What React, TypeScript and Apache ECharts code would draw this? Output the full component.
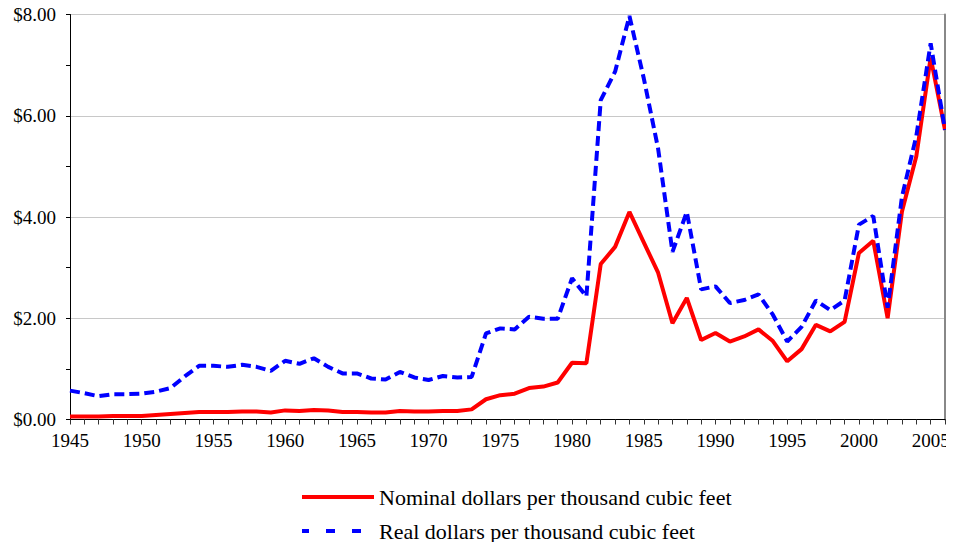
import React, { useEffect, useRef } from "react";
import * as echarts from "echarts";

const years: string[] = [];
for (let y = 1945; y <= 2006; y++) years.push(String(y));

const nominal = [
  0.06, 0.06, 0.06, 0.07, 0.07, 0.07, 0.09, 0.11, 0.13, 0.15,
  0.15, 0.15, 0.16, 0.16, 0.14, 0.18, 0.17, 0.19, 0.18, 0.15,
  0.15, 0.14, 0.14, 0.17, 0.16, 0.16, 0.17, 0.17, 0.20, 0.40,
  0.48, 0.51, 0.62, 0.65, 0.73, 1.12, 1.11, 3.07, 3.41, 4.10,
  3.50, 2.90, 1.90, 2.40, 1.57, 1.71, 1.54, 1.64, 1.78, 1.55,
  1.15, 1.39, 1.87, 1.74, 1.93, 3.29, 3.53, 2.00, 4.11, 5.20,
  7.15, 5.72,
];

const real = [
  0.57, 0.52, 0.46, 0.50, 0.50, 0.51, 0.55, 0.62, 0.85, 1.06,
  1.06, 1.04, 1.08, 1.04, 0.96, 1.16, 1.10, 1.21, 1.04, 0.91,
  0.91, 0.81, 0.79, 0.94, 0.83, 0.78, 0.86, 0.83, 0.84, 1.70,
  1.80, 1.78, 2.03, 1.99, 1.99, 2.79, 2.43, 6.31, 6.87, 7.97,
  6.74, 5.35, 3.31, 4.10, 2.57, 2.63, 2.30, 2.36, 2.47, 2.07,
  1.54, 1.83, 2.35, 2.16, 2.35, 3.85, 4.02, 2.21, 4.40, 5.60,
  7.43, 5.72,
];

const seriesNames = [
  "Nominal dollars per thousand cubic feet",
  "Real dollars per thousand cubic feet",
];

const FONT = "'Liberation Serif', 'Times New Roman', serif";

const legendBase = {
  left: 295,
  itemWidth: 72,
  itemHeight: 14,
  itemStyle: { opacity: 0 },
  textStyle: { fontFamily: FONT, fontSize: 22, color: "#000" },
};

export default function App() {
  const ref = useRef<HTMLDivElement>(null);
  useEffect(() => {
    if (!ref.current) return;
    const chart = echarts.init(ref.current, null, { renderer: "svg" });
    chart.setOption({
      animation: false,
      backgroundColor: "#fff",
      grid: { left: 70, right: 9, top: 14.5, bottom: 130.5, containLabel: false },
      legend: [
        {
          ...legendBase,
          top: 481,
          data: [seriesNames[0]],
          lineStyle: { width: 4, color: "#ff0000", type: "solid" },
        },
        {
          ...legendBase,
          top: 515,
          data: [seriesNames[1]],
          lineStyle: { width: 4, color: "#0000ff", type: [9, 17], dashOffset: 2 },
        },
      ],
      xAxis: [
        {
          type: "category",
          data: years,
          boundaryGap: false,
          axisLine: { lineStyle: { color: "#000", width: 1 } },
          axisTick: { interval: 0, length: 5, lineStyle: { color: "#333" } },
          axisLabel: {
            interval: 4,
            fontFamily: FONT,
            fontSize: 19,
            color: "#000",
            margin: 11,
          },
          splitLine: { show: false },
        },
        {
          type: "category",
          data: years,
          boundaryGap: false,
          position: "top",
          axisLine: { lineStyle: { color: "#000", width: 1 } },
          axisTick: { show: false },
          axisLabel: { show: false },
        },
      ],
      yAxis: [
        {
          type: "value",
          min: 0,
          max: 8,
          interval: 2,
          axisLine: { show: true, lineStyle: { color: "#000", width: 1 } },
          axisTick: { show: true, length: 4, lineStyle: { color: "#000" } },
          minorTick: { show: true, splitNumber: 2, length: 4, lineStyle: { color: "#000" } },
          axisLabel: {
            fontFamily: FONT,
            fontSize: 19,
            color: "#000",
            margin: 14,
            formatter: (v: number) => "$" + v.toFixed(2),
          },
          splitLine: { show: true, lineStyle: { color: "#c8c8c8", width: 1 } },
        },
        {
          type: "value",
          min: 0,
          max: 8,
          interval: 2,
          position: "right",
          axisLine: { show: true, lineStyle: { color: "#888", width: 2 } },
          axisTick: { show: false },
          axisLabel: { show: false },
          splitLine: { show: false },
        },
      ],
      series: [
        {
          name: seriesNames[0],
          type: "line",
          data: nominal,
          symbol: "none",
          lineStyle: { color: "#ff0000", width: 4 },
          itemStyle: { color: "#ff0000" },
          z: 2,
        },
        {
          name: seriesNames[1],
          type: "line",
          data: real,
          symbol: "none",
          lineStyle: { color: "#0000ff", width: 4, type: [10, 5] },
          itemStyle: { color: "#0000ff" },
          z: 3,
        },
      ],
    });
    return () => chart.dispose();
  }, []);
  return <div ref={ref} style={{ width: 954, height: 550, margin: -8 }} />;
}
